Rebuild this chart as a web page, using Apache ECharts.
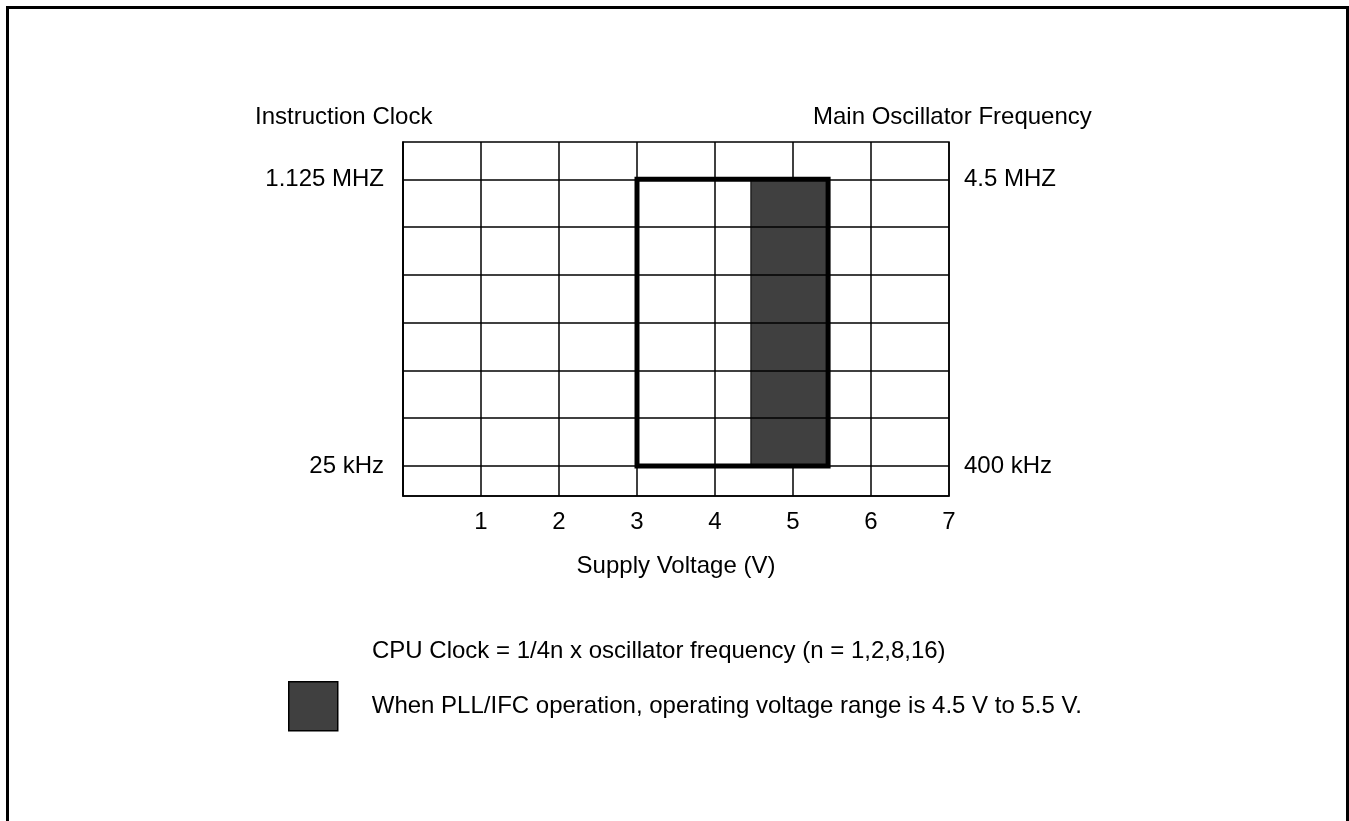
<!DOCTYPE html>
<html>
<head>
<meta charset="utf-8">
<script src="https://cdn.jsdelivr.net/npm/echarts@6/dist/echarts.min.js"></script>
<style>
  html, body { margin: 0; padding: 0; width: 1349px; height: 821px; overflow: hidden; background: #fff; }
  #chart { position: absolute; left: 0; top: 0; width: 1349px; height: 821px; }
  #frame {
    position: absolute; left: 6px; top: 6px; width: 1343px; height: 900px;
    border: 3px solid #000; box-sizing: border-box; pointer-events: none;
  }
</style>
</head>
<body>
<div id="chart"></div>
<div id="frame"></div>
<script>
// frequency grid levels (1 = lowest labelled line, 7 = highest)
const freqLevels = [1, 2, 3, 4, 5, 6, 7]
const labelLevels = [1, 7]
const instructionClockLabels = ['25 kHz', '1.125 MHZ']
const oscillatorLabels = ['400 kHz', '4.5 MHZ']

// operating range outline (supply voltage vs level)
const rangeVoltage = [3, 3, 5.45, 5.45, 3]
const rangeLevel = [1, 7, 7, 1, 1]

// PLL/IFC shaded range
const pllVoltage = [4.46, 5.45]
const pllLevel = [1, 7]

const FONT = '"Liberation Sans", Arial, sans-serif'
const pllText = 'When PLL/IFC operation, operating voltage range is 4.5 V to 5.5 V.'

const chart = echarts.init(document.getElementById('chart'))

const gridLines = freqLevels.map(v => ({ yAxis: v }))
const labelLines = []
labelLevels.forEach((lv, i) => {
  labelLines.push({
    yAxis: lv,
    lineStyle: { color: 'rgba(0,0,0,0)' },
    label: { show: true, position: 'start', distance: 19, color: '#000', formatter: instructionClockLabels[i] }
  })
  labelLines.push({
    yAxis: lv,
    lineStyle: { color: 'rgba(0,0,0,0)' },
    label: { show: true, position: 'end', distance: 15, color: '#000', formatter: oscillatorLabels[i] }
  })
})

const option = {
  animation: false,
  textStyle: { fontFamily: FONT },
  title: [
    { text: 'Instruction Clock', left: 255, top: 105, padding: 0,
      textStyle: { fontSize: 24, fontWeight: 'normal', color: '#000', fontFamily: FONT } },
    { text: 'Main Oscillator Frequency', left: 813, top: 105, padding: 0,
      textStyle: { fontSize: 24, fontWeight: 'normal', color: '#000', fontFamily: FONT } },
    { text: 'CPU Clock = 1/4n x oscillator frequency (n = 1,2,8,16)', left: 372, top: 639, padding: 0,
      textStyle: { fontSize: 24, fontWeight: 'normal', color: '#000', fontFamily: FONT } }
  ],
  legend: {
    data: [pllText],
    left: 288,
    top: 681,
    padding: 0,
    icon: 'rect',
    itemWidth: 49,
    itemHeight: 49,
    selectedMode: false,
    itemStyle: { color: '#404040', borderColor: '#000', borderWidth: 1.5 },
    textStyle: { fontSize: 24, color: '#000', fontFamily: FONT, padding: [0, 0, 0, 29] }
  },
  grid: {
    left: 403,
    right: 400,
    top: 142,
    bottom: 325,
    show: true,
    borderColor: '#000',
    borderWidth: 1.5,
    backgroundColor: 'transparent'
  },
  xAxis: {
    type: 'value',
    min: 0,
    max: 7,
    interval: 1,
    name: 'Supply Voltage (V)',
    nameLocation: 'middle',
    nameGap: 58,
    nameTextStyle: { fontSize: 24, color: '#000', fontFamily: FONT },
    axisLine: { show: true, lineStyle: { color: '#000', width: 1.5 } },
    axisTick: { show: false },
    axisLabel: { showMinLabel: false, fontSize: 24, color: '#000', margin: 14, fontFamily: FONT },
    splitLine: { show: true, lineStyle: { color: '#000', width: 1.5 } }
  },
  yAxis: {
    type: 'value',
    min: 0.372,
    max: 7.78,
    axisLine: { show: true, lineStyle: { color: '#000', width: 1.5 } },
    axisTick: { show: false },
    axisLabel: { show: false },
    splitLine: { show: false }
  },
  series: [
    {
      name: 'grid',
      type: 'line',
      data: [],
      z: 1,
      markLine: {
        silent: true,
        symbol: 'none',
        lineStyle: { color: '#000', width: 1.5, type: 'solid' },
        label: { show: false, fontSize: 24, color: '#000', fontFamily: FONT },
        data: gridLines.concat(labelLines)
      }
    },
    {
      name: pllText,
      type: 'line',
      data: [],
      z: 2,
      itemStyle: { color: '#404040' },
      markArea: {
        silent: true,
        itemStyle: { color: '#404040', borderColor: '#000', borderWidth: 1 },
        data: [[
          { xAxis: pllVoltage[0], yAxis: pllLevel[0] },
          { xAxis: pllVoltage[1], yAxis: pllLevel[1] }
        ]]
      }
    },
    {
      name: 'range',
      type: 'line',
      z: 3,
      symbol: 'none',
      data: rangeVoltage.map((v, i) => [v, rangeLevel[i]]),
      lineStyle: { color: '#000', width: 5, join: 'miter', cap: 'square' }
    }
  ]
}

chart.setOption(option)
</script>
</body>
</html>
